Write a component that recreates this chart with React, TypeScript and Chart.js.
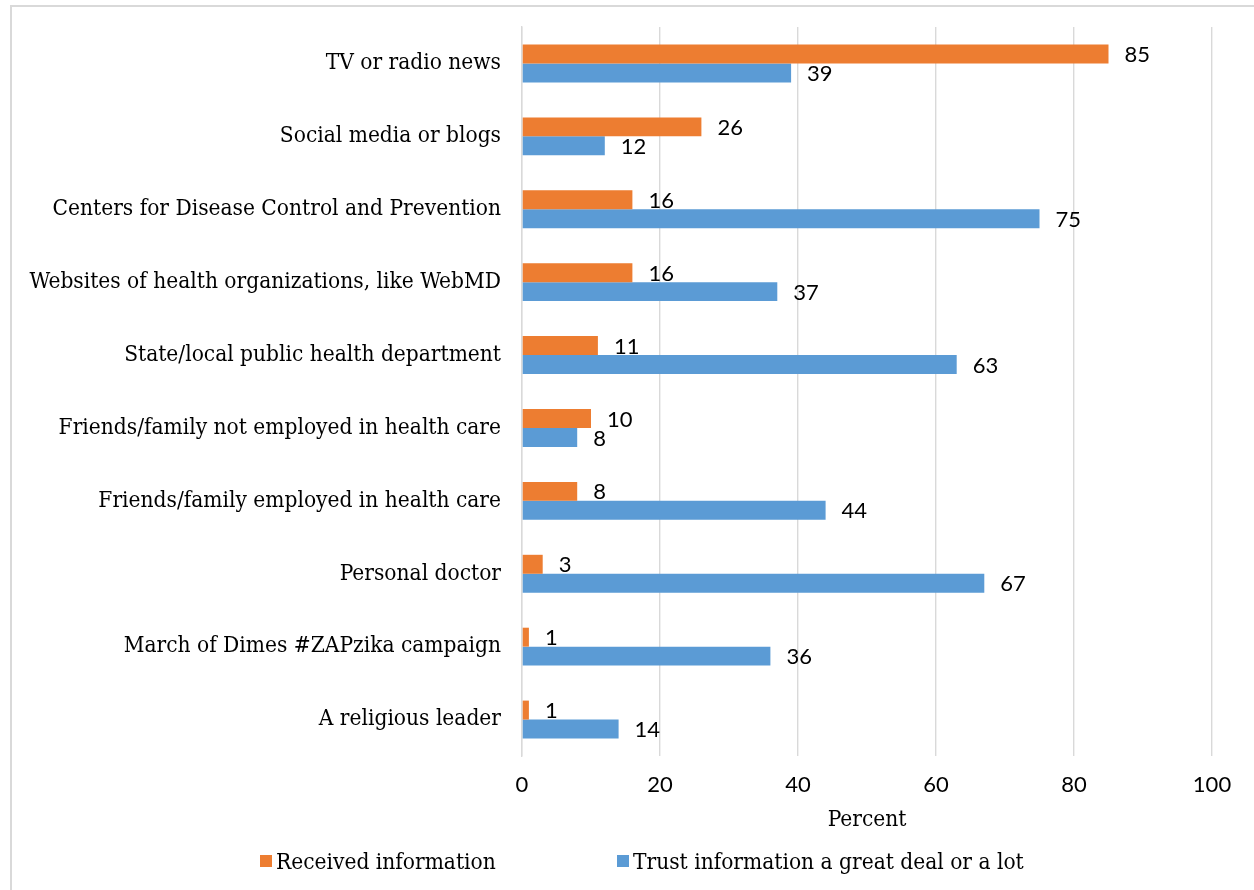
import React, { useEffect, useRef } from "react";
import { Chart, registerables } from "chart.js";

Chart.register(...registerables);

const categories = [
  "TV or radio news",
  "Social media or blogs",
  "Centers for Disease Control and Prevention",
  "Websites of health organizations, like WebMD",
  "State/local public health department",
  "Friends/family not employed in health care",
  "Friends/family employed in health care",
  "Personal doctor",
  "March of Dimes #ZAPzika campaign",
  "A religious leader",
];
const receivedValues = [85, 26, 16, 16, 11, 10, 8, 3, 1, 1];
const trustValues = [39, 12, 75, 37, 63, 8, 44, 67, 36, 14];
const seriesNames = ["Received information", "Trust information a great deal or a lot"];
const seriesColors = ["#ED7D31", "#5B9BD5"];
const xTicks = [0, 20, 40, 60, 80, 100];
const axisTitle = "Percent";

const SERIF = "'DejaVu Serif', serif";
const SANS = "Lato, 'Open Sans', sans-serif";

const valueLabels = {
  id: "valueLabels",
  afterDatasetsDraw(chart: any) {
    const ctx = chart.ctx;
    ctx.save();
    ctx.font = `22px ${SANS}`;
    ctx.fillStyle = "#000";
    ctx.textBaseline = "middle";
    ctx.textAlign = "left";
    chart.data.datasets.forEach((ds: any, i: number) => {
      const meta = chart.getDatasetMeta(i);
      meta.data.forEach((el: any, j: number) => {
        ctx.fillText(String(ds.data[j]), el.x + 16, el.y + 1);
      });
    });
    ctx.restore();
  },
};

export default function App() {
  const ref = useRef<HTMLCanvasElement>(null);
  useEffect(() => {
    if (!ref.current) return;
    const chart = new Chart(ref.current, {
      type: "bar",
      data: {
        labels: categories,
        datasets: [
          { label: seriesNames[0], data: receivedValues, backgroundColor: seriesColors[0] },
          { label: seriesNames[1], data: trustValues, backgroundColor: seriesColors[1] },
        ],
      },
      options: {
        indexAxis: "y",
        animation: false,
        responsive: false,
        maintainAspectRatio: false,
        datasets: { bar: { barPercentage: 1, categoryPercentage: 0.52 } },
        layout: { padding: { top: 27, right: 42, left: 0, bottom: 54 } },
        plugins: { legend: { display: false }, tooltip: { enabled: false } },
        scales: {
          x: {
            min: 0,
            max: 100,
            afterBuildTicks: (s: any) => {
              s.ticks = xTicks.map((v) => ({ value: v }));
            },
            afterFit: (s: any) => {
              s.height = 80;
            },
            grid: { color: "#d9d9d9", lineWidth: 1.4, drawTicks: false },
            border: { display: false },
            ticks: { padding: 16, color: "#000", font: { family: SANS, size: 22 } },
            title: {
              display: true,
              text: axisTitle,
              color: "#000",
              font: { family: SERIF, size: 22.5, weight: "condensed" as any },
              padding: { top: 0, bottom: 2 },
            },
          },
          y: {
            afterFit: (s: any) => {
              s.width = 522;
              s.paddingTop = 0;
              s.paddingBottom = 0;
            },
            grid: { display: false, drawTicks: false },
            border: { display: true, color: "#d9d9d9", width: 1.4 },
            ticks: { padding: 21, color: "#000", font: { family: SERIF, size: 22.5, weight: "condensed" as any } },
          },
        },
      },
      plugins: [valueLabels],
    });
    return () => chart.destroy();
  }, []);

  const legendText: React.CSSProperties = {
    fontFamily: SERIF,
    fontSize: 22.5,
    fontStretch: "condensed",
    color: "#000",
    marginLeft: 4,
  };
  const box = (c: string): React.CSSProperties => ({ width: 12, height: 12, background: c, display: "inline-block" });

  return (
    <div style={{ position: "fixed", left: 0, top: 0, width: 1254, height: 890, overflow: "hidden", background: "#fff" }}>
      <div style={{ position: "absolute", left: 10, top: 5, width: 1300, height: 950, border: "2px solid #d9d9d9", boxSizing: "border-box" }} />
      <canvas ref={ref} width={1254} height={890} style={{ position: "absolute", left: 0, top: 0, width: 1254, height: 890 }} />
      <div style={{ position: "absolute", left: 260, top: 848, display: "flex", alignItems: "center", whiteSpace: "nowrap" }}>
        <span style={box(seriesColors[0])} />
        <span style={legendText}>{seriesNames[0]}</span>
      </div>
      <div style={{ position: "absolute", left: 617, top: 848, display: "flex", alignItems: "center", whiteSpace: "nowrap" }}>
        <span style={box(seriesColors[1])} />
        <span style={legendText}>{seriesNames[1]}</span>
      </div>
    </div>
  );
}
